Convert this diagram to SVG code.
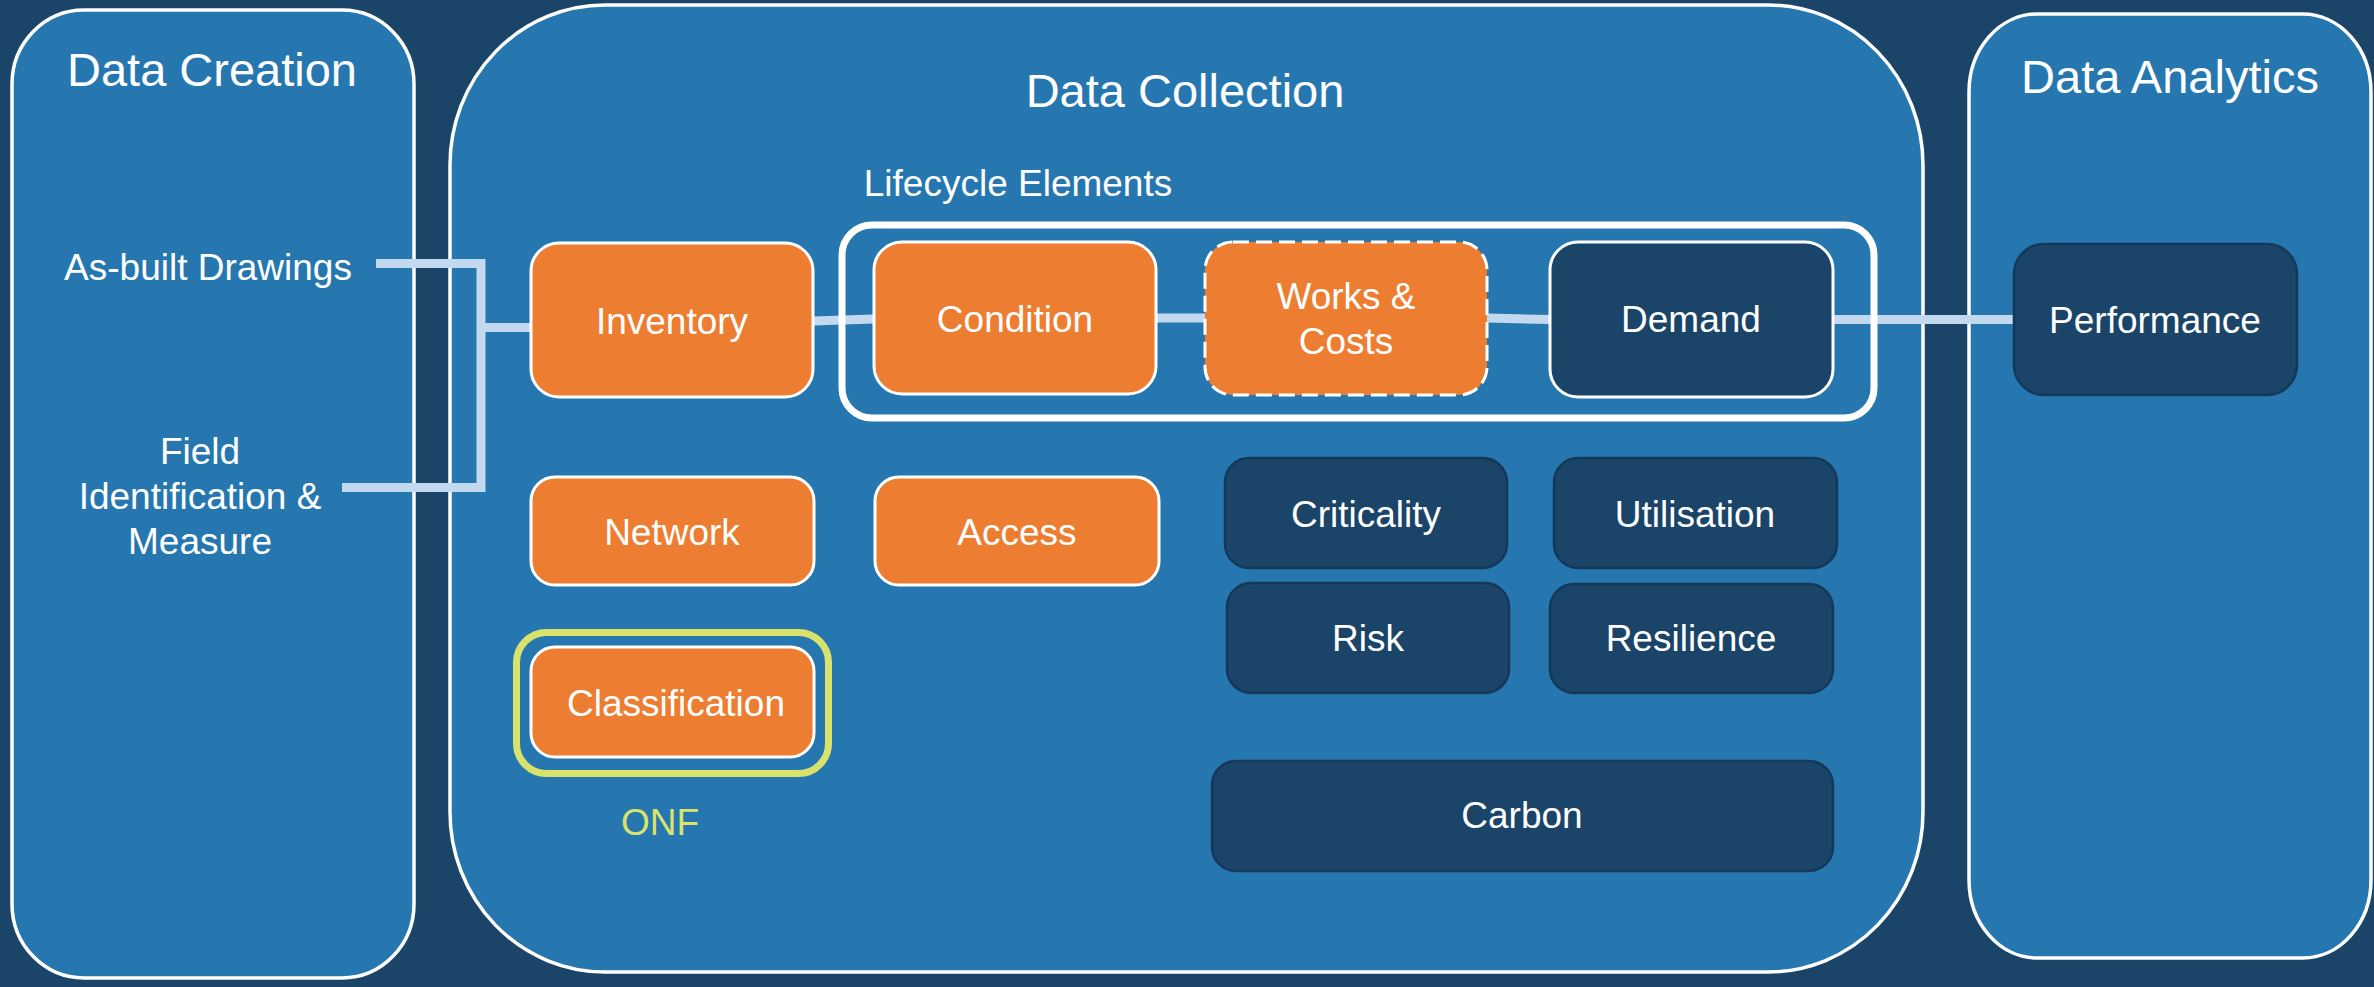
<svg xmlns="http://www.w3.org/2000/svg" width="2374" height="987" viewBox="0 0 2374 987">
<style>
text{font-family:"Liberation Sans",Arial,sans-serif;fill:#ffffff;text-anchor:middle}
.panel{fill:#2677b0;stroke:#ffffff;stroke-width:3.5}
.org{fill:#ed7d31;stroke:#ffffff;stroke-width:3}
.drk{fill:#1b4469;stroke:#ffffff;stroke-width:3}
.drk2{fill:#1b4469;stroke:#14385a;stroke-width:2.5}
.lbl{font-size:37px}
.title{font-size:47px}
.conn{fill:none;stroke:#c3d9ef;stroke-width:9}
</style>
<rect x="0" y="0" width="2374" height="987" fill="#1b4469"/>

<g id="panel-creation">
<rect class="panel" x="12" y="10" width="402" height="968" rx="72" ry="74"/>
<text class="title" x="212" y="86">Data Creation</text>
<text class="lbl" x="208" y="280">As-built Drawings</text>
<text class="lbl" x="200" y="464">Field</text>
<text class="lbl" x="200" y="509">Identification &amp;</text>
<text class="lbl" x="200" y="554">Measure</text>
</g>

<g id="panel-collection">
<rect class="panel" x="450" y="5" width="1473" height="967" rx="155" ry="160"/>
<text class="title" x="1185" y="107">Data Collection</text>
<text class="lbl" x="1018" y="196">Lifecycle Elements</text>
</g>

<g id="panel-analytics">
<rect class="panel" x="1969" y="14" width="402" height="944" rx="68" ry="78"/>
<text class="title" x="2170" y="93">Data Analytics</text>
</g>

<g id="connectors">
<polyline class="conn" points="376,263.5 481,263.5 481,487.5 342,487.5"/>
<line class="conn" x1="481" y1="327.5" x2="531" y2="327.5"/>
<line class="conn" x1="813" y1="321" x2="874" y2="319"/>
<line class="conn" x1="1156" y1="318" x2="1205" y2="318"/>
<line class="conn" x1="1487" y1="318" x2="1550" y2="319.5"/>
<line class="conn" x1="1833" y1="319.5" x2="2014" y2="319.5"/>
</g>

<g id="lifecycle-group">
<rect x="842" y="225" width="1032" height="193" rx="30" fill="none" stroke="#ffffff" stroke-width="7"/>
</g>

<g id="node-inventory">
<rect class="org" x="531" y="243" width="282" height="154" rx="28"/>
<text class="lbl" x="672" y="334">Inventory</text>
</g>
<g id="node-condition">
<rect class="org" x="874" y="242" width="282" height="152" rx="28"/>
<text class="lbl" x="1015" y="332">Condition</text>
</g>
<g id="node-works">
<rect class="org" x="1205" y="242" width="282" height="153" rx="28" stroke-dasharray="16 7"/>
<text class="lbl" x="1346" y="309">Works &amp;</text>
<text class="lbl" x="1346" y="354">Costs</text>
</g>
<g id="node-demand">
<rect class="drk" x="1550" y="242" width="283" height="155" rx="28"/>
<text class="lbl" x="1691" y="332">Demand</text>
</g>
<g id="node-performance">
<rect class="drk2" x="2014" y="244" width="283" height="151" rx="30"/>
<text class="lbl" x="2155" y="333">Performance</text>
</g>

<g id="node-network">
<rect class="org" x="531" y="477" width="283" height="108" rx="24"/>
<text class="lbl" x="672" y="545">Network</text>
</g>
<g id="node-access">
<rect class="org" x="875" y="477" width="284" height="108" rx="24"/>
<text class="lbl" x="1017" y="545">Access</text>
</g>
<g id="node-classification">
<rect x="516.5" y="632.5" width="312" height="141" rx="30" fill="none" stroke="#d9e36c" stroke-width="7"/>
<rect class="org" x="531" y="647" width="283" height="110" rx="24"/>
<text class="lbl" x="676" y="716">Classification</text>
<text class="lbl" x="660" y="835" style="fill:#d9e36c">ONF</text>
</g>

<g id="node-criticality">
<rect class="drk2" x="1225" y="458" width="282" height="110" rx="24"/>
<text class="lbl" x="1366" y="527">Criticality</text>
</g>
<g id="node-utilisation">
<rect class="drk2" x="1554" y="458" width="283" height="110" rx="24"/>
<text class="lbl" x="1695" y="527">Utilisation</text>
</g>
<g id="node-risk">
<rect class="drk2" x="1227" y="583" width="282" height="110" rx="24"/>
<text class="lbl" x="1368" y="651">Risk</text>
</g>
<g id="node-resilience">
<rect class="drk2" x="1550" y="584" width="283" height="109" rx="24"/>
<text class="lbl" x="1691" y="651">Resilience</text>
</g>
<g id="node-carbon">
<rect class="drk2" x="1212" y="761" width="621" height="110" rx="24"/>
<text class="lbl" x="1522" y="828">Carbon</text>
</g>
</svg>
